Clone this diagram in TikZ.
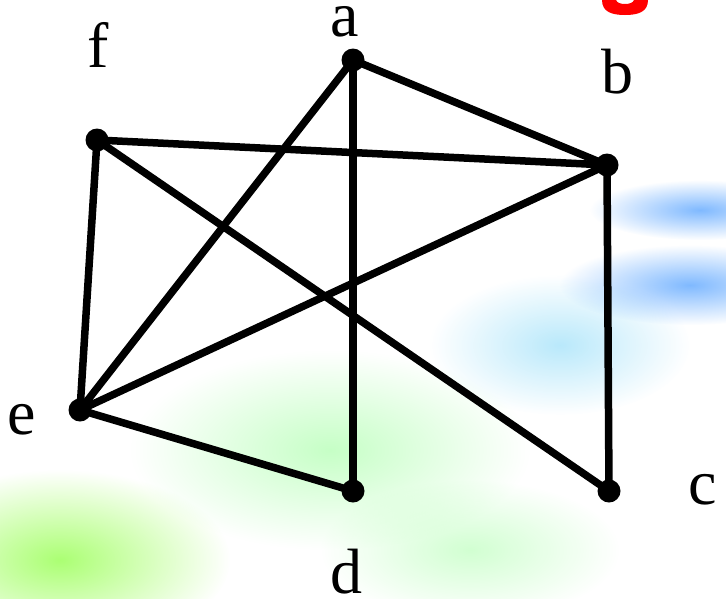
\documentclass[tikz,border=0pt]{standalone}
\usepackage{fontspec}
\setmainfont{Liberation Serif}
\usetikzlibrary{fadings}
\tikzfading[name=softblob,inner color=transparent!0,outer color=transparent!100]
\begin{document}
\begin{tikzpicture}[x=1pt,y=-1pt,
  vtx/.style={circle,fill=black,inner sep=0pt,minimum size=23pt},
  edge/.style={line width=7.5pt},
  lbl/.style={font=\fontsize{64}{64}\selectfont,inner sep=0pt},
  blob/.style={path fading=softblob}]
\useasboundingbox (0,0) rectangle (726,598);
% background washes
\fill[green!60!yellow,blob,opacity=0.55] (60,560) ellipse (170 and 90);
\fill[green!50,blob,opacity=0.45] (330,450) ellipse (200 and 100);
\fill[green!45,blob,opacity=0.4] (470,550) ellipse (150 and 70);
\fill[cyan!55,blob,opacity=0.5] (560,345) ellipse (130 and 70);
\fill[blue!55!cyan,blob,opacity=0.5] (700,210) ellipse (110 and 30);
\fill[blue!55!cyan,blob,opacity=0.5] (690,285) ellipse (130 and 40);
% red fragment
\fill[red] (602,0) .. controls (602,12) and (612,15) .. (625,15)
  .. controls (638,15) and (648,12) .. (648,0) -- (634,0)
  .. controls (633,3) and (629,4) .. (625,4)
  .. controls (621,4) and (617,3) .. (616,0) -- cycle;
% vertices
\node[vtx] (a) at (353,60) {};
\node[vtx] (b) at (607,165) {};
\node[vtx] (c) at (609,491) {};
\node[vtx] (d) at (353,491) {};
\node[vtx] (e) at (80,410) {};
\node[vtx] (f) at (97,140) {};
% edges
\draw[edge] (a.center) -- (b.center);
\draw[edge] (a.center) -- (d.center);
\draw[edge] (a.center) -- (e.center);
\draw[edge] (f.center) -- (b.center);
\draw[edge] (f.center) -- (e.center);
\draw[edge] (f.center) -- (c.center);
\draw[edge] (b.center) -- (e.center);
\draw[edge] (b.center) -- (c.center);
\draw[edge] (e.center) -- (d.center);
% labels
\node[lbl] (la) at (345,22) {a};
\node[lbl] (lb) at (617,72) {b};
\node[lbl] (lc) at (703,490) {c};
\node[lbl] (ld) at (346,572) {d};
\node[lbl] (le) at (22,420) {e};
\node[lbl] (lf) at (98,45) {f};
\end{tikzpicture}
\end{document}
